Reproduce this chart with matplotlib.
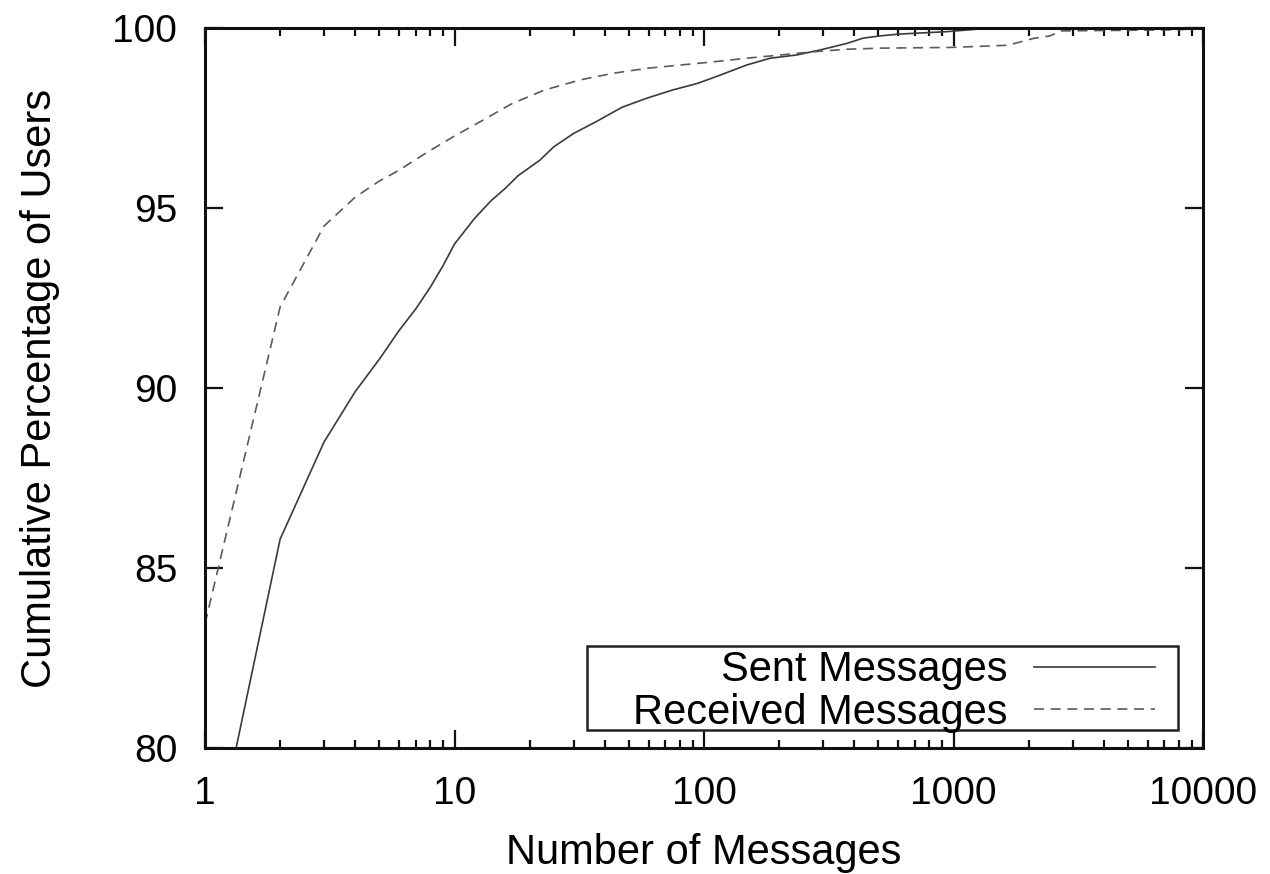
import matplotlib

matplotlib.use("Agg")
import matplotlib.pyplot as plt
from matplotlib.patches import Rectangle
from matplotlib.ticker import FixedLocator, LogLocator, NullFormatter

# Cumulative share of users by number of messages (log x axis)
sent_counts = [1, 2, 3, 4, 5, 6, 7, 8, 9, 10, 12, 14, 16, 18, 22, 25, 30, 37, 47,
               59, 75, 94, 116, 148, 184, 235, 292, 373, 435, 508, 600, 950, 1200, 1500]
sent_pct = [75.9, 85.8, 88.5, 89.9, 90.8, 91.6, 92.2, 92.8, 93.4, 94.0, 94.7, 95.2,
            95.55, 95.9, 96.33, 96.7, 97.07, 97.4, 97.8, 98.05, 98.28, 98.46, 98.69,
            98.97, 99.16, 99.25, 99.39, 99.57, 99.72, 99.78, 99.83, 99.9, 99.96, 100.0]

recv_counts = [1, 2, 3, 4, 5, 6, 7, 8, 10, 13, 17, 23, 32, 43, 59, 80, 109, 148,
               202, 274, 373, 508, 968, 1650, 2090, 2436, 2700, 8000, 10000]
recv_pct = [83.45, 92.25, 94.5, 95.3, 95.75, 96.05, 96.35, 96.6, 97.0, 97.44, 97.9,
            98.28, 98.56, 98.74, 98.88, 98.97, 99.06, 99.16, 99.25, 99.34, 99.41,
            99.44, 99.46, 99.52, 99.71, 99.78, 99.92, 99.95, 100.0]

x_ticks = [1, 10, 100, 1000, 10000]
x_tick_labels = ["1", "10", "100", "1000", "10000"]
y_ticks = [80, 85, 90, 95, 100]

plt.rcParams["font.family"] = ["Liberation Sans", "DejaVu Sans"]
plt.rcParams["font.size"] = 30

fig = plt.figure(figsize=(12.7, 8.74), dpi=100)
ax = fig.add_axes([205 / 1270, 126 / 874, 998 / 1270, 720 / 874])

ax.plot(sent_counts, sent_pct, color="#3a3a3a", linewidth=1.2, label="Sent Messages")
ax.plot(recv_counts, recv_pct, color="#5a5a5a", linewidth=1.2,
        dashes=(6, 4), label="Received Messages")

ax.set_xscale("log")
ax.set_xlim(1, 10000)
ax.set_ylim(80, 100)
ax.set_xticks(x_ticks, x_tick_labels)
ax.xaxis.set_minor_locator(LogLocator(base=10, subs=range(2, 10)))
ax.xaxis.set_minor_formatter(NullFormatter())
ax.yaxis.set_major_locator(FixedLocator(y_ticks))

ax.tick_params(which="both", direction="in", top=True, right=True, color="#111111")
ax.tick_params(which="major", length=13, width=1.6, pad=20, labelsize=28)
ax.tick_params(which="minor", length=6, width=1.6)
for spine in ax.spines.values():
    spine.set_linewidth(2.2)
    spine.set_color("#111111")

ax.set_xlabel("Number of Messages", labelpad=15)
ax.set_ylabel("Cumulative Percentage of Users", labelpad=38)

# key box in the lower right, drawn separately so it can be wider than the text
ax.add_patch(Rectangle((0.3828, 0.025), 0.5922, 0.1167, transform=ax.transAxes,
                       facecolor="white", edgecolor="#222222", linewidth=1.8,
                       zorder=4))
leg = ax.legend(loc="lower right", bbox_to_anchor=(0.952, 0.021),
                borderaxespad=0, markerfirst=False, frameon=False,
                handlelength=2.9, handletextpad=0.65, labelspacing=0.06,
                borderpad=0, fontsize=30)
leg.set_zorder(5)

fig.savefig("out.png", dpi=100, facecolor="white")
